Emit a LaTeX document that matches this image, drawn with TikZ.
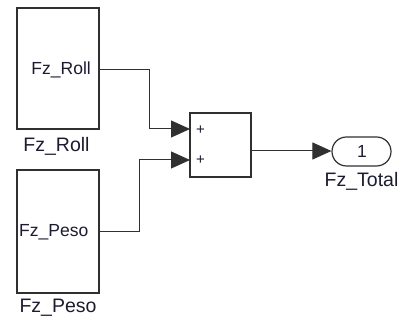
\documentclass[tikz,border=0pt]{standalone}
\usepackage{fontspec}
\setmainfont{Liberation Sans}
\usetikzlibrary{arrows.meta}
\definecolor{ln}{HTML}{303030}
\definecolor{tx}{HTML}{1C1C30}
\begin{document}
\begin{tikzpicture}[x=1pt,y=1pt,
  blk/.style={draw=ln,line width=1.2pt,fill=white,inner sep=0pt},
  wire/.style={draw=ln,line width=1pt,-{Triangle[length=19pt,width=17pt]}},
  lbl/.style={text=tx,font=\fontsize{19.5}{19.5}\selectfont,inner sep=0pt},
  inlbl/.style={text=tx,font=\fontsize{17.5}{17.5}\selectfont,inner sep=0pt},
  sgn/.style={text=tx,font=\fontsize{15}{15}\selectfont,inner sep=0pt}]
\useasboundingbox (0,0) rectangle (401,320);
% source blocks
\node[blk,minimum width=82pt,minimum height=121pt] (roll) at (58,251.5) {};
\node[blk,minimum width=82pt,minimum height=123pt] (peso) at (58,88.5) {};
\node[inlbl,anchor=east] (rolltxt) at (91,250) {Fz\_Roll};
\node[inlbl,anchor=west] (pesotxt) at (19,88) {Fz\_Peso};
\node[lbl] (rolllbl) at (56.5,174) {Fz\_Roll};
\node[lbl] (pesolbl) at (58,12) {Fz\_Peso};
% sum block
\node[blk,minimum width=61pt,minimum height=64pt] (sum) at (220.5,175) {};
\coordinate (in1) at (190,191);
\coordinate (in2) at (190,160);
\coordinate (out) at (251,169);
\node[sgn] (p1) at (200.5,189.5) {+};
\node[sgn] (p2) at (200.5,159.5) {+};
% outport
\node[draw=ln,line width=1.2pt,rounded corners=14.5pt,minimum width=59pt,minimum height=29pt,inner sep=0pt] (outp) at (361.5,168.5) {};
\node[inlbl] (one) at (362,168.5) {1};
\node[lbl] (outlbl) at (361.5,139) {Fz\_Total};
% connectors
\draw[wire] (roll.east |- 0,250) -- (149,250) -- (149,191) -- (in1);
\draw[wire] (peso.east |- 0,88) -- (139,88) -- (139,160) -- (in2);
\draw[wire] (out) -- (outp.west |- out);
\end{tikzpicture}
\end{document}
